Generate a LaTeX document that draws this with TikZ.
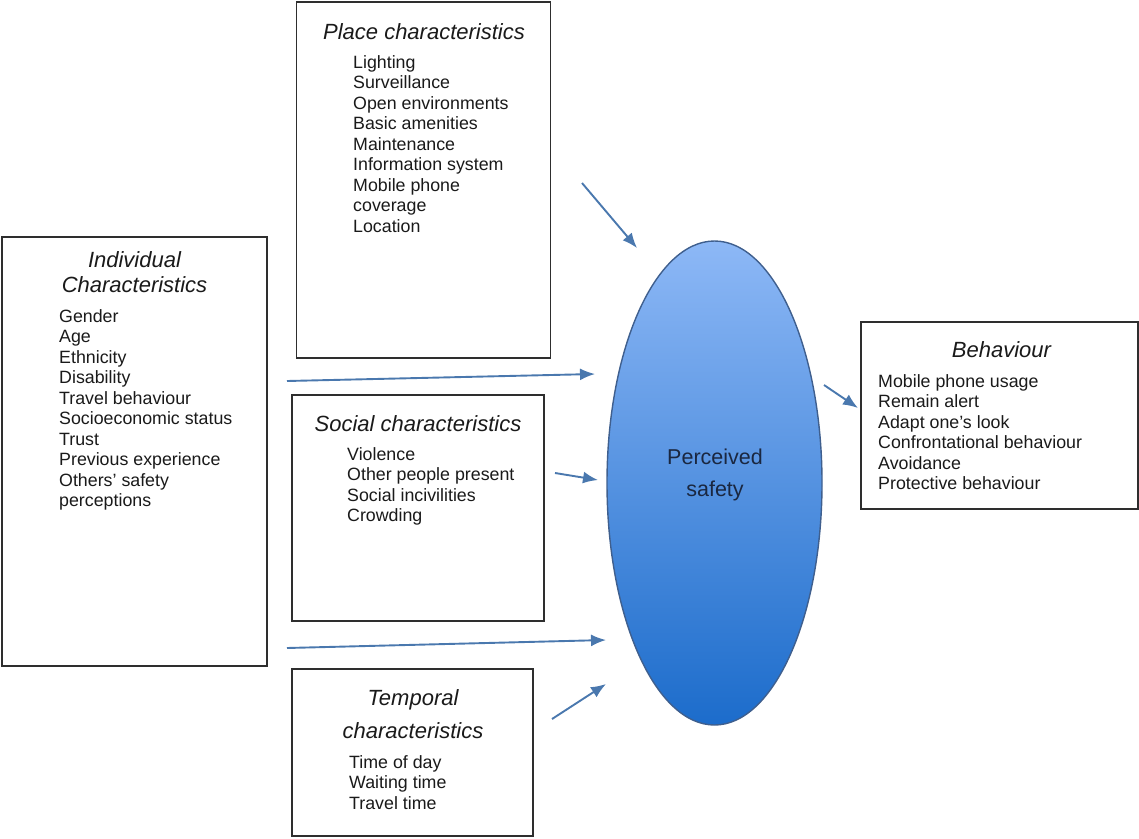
\documentclass[tikz,border=0pt]{standalone}
\usepackage{fontspec}
\setmainfont{Liberation Sans}
\usetikzlibrary{shapes.geometric,arrows.meta}
\definecolor{txt}{HTML}{1A1A1A}
\definecolor{boxline}{HTML}{2E2E2E}
\definecolor{arrowblue}{HTML}{4A78AE}
\definecolor{elltop}{HTML}{8DB8F6}
\definecolor{ellbot}{HTML}{1C6CCB}
\definecolor{ellline}{HTML}{3F5F8E}
\definecolor{elltext}{HTML}{1A2740}
\tikzset{
  box/.style={draw=boxline, line width=1.6pt, fill=white, rectangle, inner sep=0pt, outer sep=0pt},
  head/.style={text=txt, inner sep=0pt, anchor=base, font=\fontsize{22}{26}\selectfont\itshape},
  items/.style={text=txt, inner sep=0pt, anchor=north west, align=left, font=\fontsize{17.8}{20.5}\selectfont},
  arr/.style={draw=arrowblue, line width=1.9pt, -{Latex[length=15pt,width=12pt]}},
}
\newcommand{\itemtop}{\strut}
\begin{document}
\begin{tikzpicture}[x=1pt,y=-1pt]
\useasboundingbox (0,0) rectangle (1139,838);
% boxes
\node[box, minimum width=254pt, minimum height=356pt] (place) at (423.5,180) {};
\node[box, minimum width=265pt, minimum height=429pt] (indiv) at (134.5,451.5) {};
\node[box, minimum width=252pt, minimum height=226pt] (social) at (418,508) {};
\node[box, minimum width=241pt, minimum height=167pt] (temporal) at (412.5,752.5) {};
\node[box, minimum width=277pt, minimum height=187pt] (behav) at (999.5,415.5) {};
% ellipse
\node[ellipse, draw=ellline, line width=1.4pt, top color=elltop, bottom color=ellbot,
      minimum width=215pt, minimum height=484pt, inner sep=0pt] (ps) at (714.5,483) {};
\node[text=elltext, inner sep=0pt, anchor=base, font=\fontsize{21.5}{26}\selectfont] (ps1) at (715,464) {Perceived};
\node[text=elltext, inner sep=0pt, anchor=base, font=\fontsize{21.5}{26}\selectfont] (ps2) at (715,496) {safety};
% headings
\node[head] (placeh) at (424,39) {Place characteristics};
\node[head] (indivh1) at (134.5,267) {Individual};
\node[head] (indivh2) at (134.5,292) {Characteristics};
\node[head] (socialh) at (418,431) {Social characteristics};
\node[head] (temph1) at (413,705) {Temporal};
\node[head] (temph2) at (413,738) {characteristics};
\node[head] (behavh) at (1001.5,357) {Behaviour};
% item lists (top = baseline - 14.35)
\node[items] (placei) at (353,53.65) {\itemtop Lighting\\Surveillance\\Open environments\\Basic amenities\\Maintenance\\Information system\\Mobile phone\\coverage\\Location};
\node[items] (indivi) at (59,307.65) {\itemtop Gender\\Age\\Ethnicity\\Disability\\Travel behaviour\\Socioeconomic status\\Trust\\Previous experience\\Others' safety\\perceptions};
\node[items] (sociali) at (347,445.65) {\itemtop Violence\\Other people present\\Social incivilities\\Crowding};
\node[items] (tempi) at (349,753.65) {\itemtop Time of day\\Waiting time\\Travel time};
\node[items] (behavi) at (878,372.65) {\itemtop Mobile phone usage\\Remain alert\\Adapt one’s look\\Confrontational behaviour\\Avoidance\\Protective behaviour};
% arrow ends
\coordinate (a1s) at (582,183); \coordinate (a1e) at (637,248);
\coordinate (a2s) at (287,381); \coordinate (a2e) at (595,374);
\coordinate (a3s) at (555,473); \coordinate (a3e) at (598,480);
\coordinate (a4s) at (287,648); \coordinate (a4e) at (606,640);
\coordinate (a5s) at (552,719); \coordinate (a5e) at (606,684);
\coordinate (a6s) at (824,385); \coordinate (a6e) at (858,408);
\draw[arr] (a1s) -- (a1e);
\draw[arr] (a2s) -- (a2e);
\draw[arr] (a3s) -- (a3e);
\draw[arr] (a4s) -- (a4e);
\draw[arr] (a5s) -- (a5e);
\draw[arr] (a6s) -- (a6e);
\end{tikzpicture}
\end{document}
